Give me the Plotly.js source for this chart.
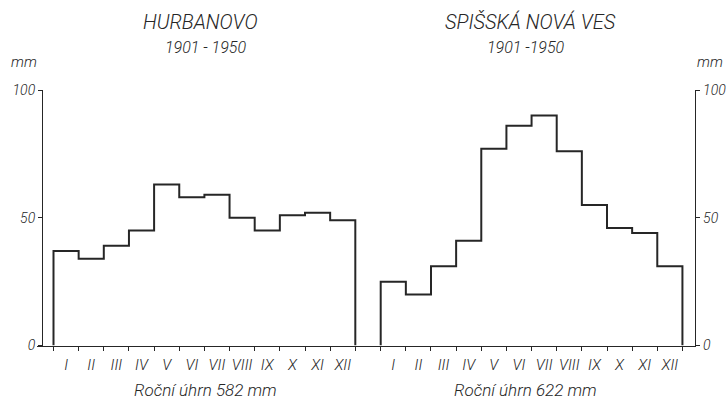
<!DOCTYPE html>
<html>
<head>
<meta charset="utf-8">
<script src="https://cdn.plot.ly/plotly-3.0.1.min.js"></script>
<style>html,body{margin:0;padding:0;background:#fff;}#chart{width:726px;height:401px;}</style>
</head>
<body>
<div id="chart"></div>
<script>
// Monthly precipitation (mm), 1901-1950
const months = [1,2,3,4,5,6,7,8,9,10,11,12];
const monthLabels = ["I","II","III","IV","V","VI","VII","VIII","IX","X","XI","XII"];
const hurbanovo = [37,34,39,45,63,58,59,50,45,51,52,49];
const spisska = [25,20,31,41,77,86,90,76,55,46,44,31];
const yTicks = [0,50,100];

// step outline: rise at start of first month, drop at end of last month
function stepX(m){ const x=[m[0]-0.5]; m.forEach(v=>x.push(v-0.5)); x.push(m[m.length-1]+0.5); return x; }
function stepY(v){ return [0].concat(v).concat([0]); }

const W=726,H=401;
const ink='#262626';
const fnt={family:'Roboto, "Open Sans", sans-serif',size:15,color:'#262626',style:'italic',weight:300};
const yTop=1-90/H, yBot=1-345.5/H;

const traces=[
 {x:stepX(months),y:stepY(hurbanovo),xaxis:'x',yaxis:'y',type:'scatter',mode:'lines',line:{shape:'hv',color:ink,width:2},hoverinfo:'skip'},
 {x:stepX(months),y:stepY(spisska),xaxis:'x2',yaxis:'y2',type:'scatter',mode:'lines',line:{shape:'hv',color:ink,width:2},hoverinfo:'skip'}
];

function xax(dom,rng,anchor){
 return {domain:dom,range:rng,anchor:anchor,showline:true,linecolor:ink,linewidth:1.3,
  tickmode:'array',tickvals:months,ticktext:monthLabels,ticks:'',tickfont:fnt,ticklabelstandoff:5,
  minor:{tick0:0.5,dtick:1,ticks:'outside',ticklen:4,tickcolor:ink,tickwidth:1},
  showgrid:false,zeroline:false,fixedrange:true};
}
function yax(extra){
 return Object.assign({domain:[yBot,yTop],range:[0,100],showline:true,linecolor:ink,linewidth:1.3,
  tickmode:'array',tickvals:yTicks,ticks:'outside',ticklen:4,tickcolor:ink,tickfont:Object.assign({},fnt,{size:14}),
  showgrid:false,zeroline:false,fixedrange:true},extra);
}

const ann=(t,x,y,size,xa)=>({text:t,x:x/W,y:1-y/H,xref:'paper',yref:'paper',xanchor:xa||'center',yanchor:'middle',showarrow:false,font:Object.assign({},fnt,{size:size})});

const layout={
 width:W,height:H,margin:{l:0,r:0,t:0,b:0},paper_bgcolor:'#fff',plot_bgcolor:'rgba(0,0,0,0)',showlegend:false,
 xaxis:xax([37/W,367/W],[-0.156,12.965],'y'),
 yaxis:yax({anchor:'free',position:42/W,side:'left'}),
 xaxis2:xax([367/W,695/W],[-0.045,13.0],'y2'),
 yaxis2:yax({anchor:'x2',side:'right',ticklabelstandoff:0}),
 annotations:[
  ann('HURBANOVO',200,22,20),
  ann('1901 - 1950',205,47,16),
  ann('SPIŠSKÁ NOVÁ VES',530,22,20),
  ann('1901 -1950',526,47,16),
  ann('mm',9,62,15,'left'),
  ann('mm',725,62,15,'right'),
  ann('Roční úhrn 582 mm',206,390,17),
  ann('Roční úhrn 622 mm',525,390,17)
 ]
};
Plotly.newPlot('chart',traces,layout,{staticPlot:true,displayModeBar:false});
</script>
</body>
</html>
